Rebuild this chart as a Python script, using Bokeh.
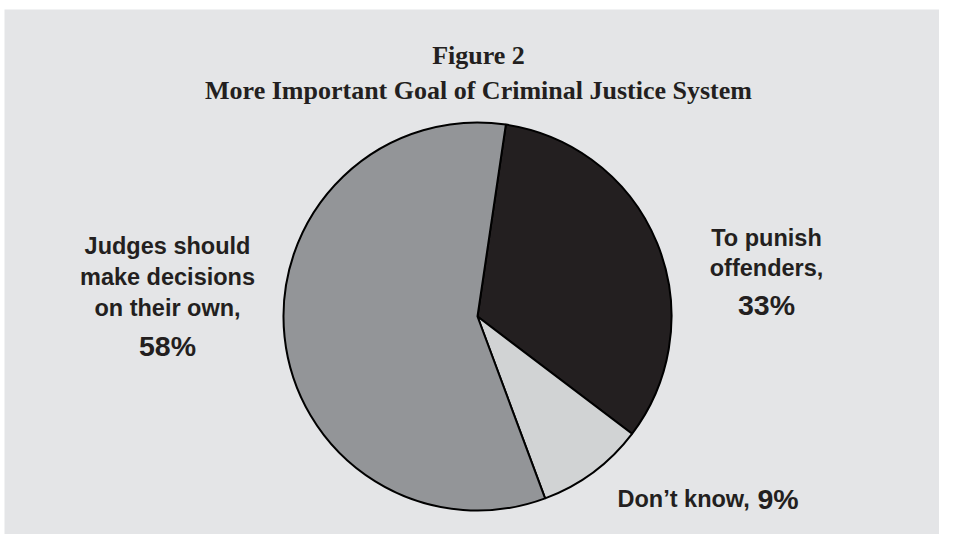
import math
from bokeh.plotting import figure
from bokeh.models import Range1d, ColumnDataSource
from bokeh.core.properties import value
from bokeh.embed import file_html
from bokeh.resources import INLINE

# ---- data ----
title_lines = ["Figure 2", "More Important Goal of Criminal Justice System"]
categories = ["To punish offenders", "Don\u2019t know", "Judges should make decisions on their own"]
values = [33, 9, 58]
colors = ["#231f20", "#d1d3d4", "#939598"]
label_judges = ["Judges should", "make decisions", "on their own,"]
label_punish = ["To punish", "offenders,"]
label_dk = "Don\u2019t know,"

W, H = 939, 534
BG = "#e4e5e7"
TXT = "#231f20"

p = figure(width=W, height=H, output_backend="svg", toolbar_location=None,
           x_range=Range1d(4, W), y_range=Range1d(16, 541),
           min_border=0, min_border_left=4, min_border_top=9,
           background_fill_color=BG, border_fill_color="#ffffff", outline_line_color=None)
p.axis.visible = False
p.grid.visible = False

# ---- pie ----
cx, cy, r = 477, 234, 194
start_deg = 81.6  # first wedge begins slightly right of top, going clockwise
total = sum(values)
ends, starts = [], []
cur = math.radians(start_deg)
for v in values:
    a = 2 * math.pi * v / total
    starts.append(cur - a)
    ends.append(cur)
    cur -= a
src = ColumnDataSource(dict(cat=categories, val=values, color=colors, start=starts, end=ends))
p.wedge(x=cx, y=cy, radius=r, start_angle="start", end_angle="end", source=src,
        fill_color="color", line_color="#000000", line_width=2)

# ---- title ----
serif = value("Liberation Serif")
p.text(x=[478], y=[495], text=[title_lines[0]], text_font=serif,
       text_font_style="bold", text_font_size="26px", text_color=TXT,
       text_align="center", text_baseline="alphabetic")
p.text(x=[478], y=[460], text=[title_lines[1]], text_font=serif,
       text_font_style="bold", text_font_size="26px", text_color=TXT,
       text_align="center", text_baseline="alphabetic")

def pct(v):
    return f"{v}%"

font = value("Liberation Sans")
LS, PS = "23.5px", "28.5px"
# Judges label
p.text(x=[167] * 3, y=[305, 274, 243], text=label_judges, text_font=font, text_font_style="bold",
       text_font_size=LS, text_color=TXT, text_align="center", text_baseline="alphabetic")
p.text(x=[167], y=[205], text=[pct(values[2])], text_font=font, text_font_style="bold",
       text_font_size=PS, text_color=TXT, text_align="center", text_baseline="alphabetic")
# Punish label
p.text(x=[766] * 2, y=[313, 283], text=label_punish, text_font=font, text_font_style="bold",
       text_font_size=LS, text_color=TXT, text_align="center", text_baseline="alphabetic")
p.text(x=[766], y=[246], text=[pct(values[0])], text_font=font, text_font_style="bold",
       text_font_size=PS, text_color=TXT, text_align="center", text_baseline="alphabetic")
# Don't know label
p.text(x=[617], y=[52], text=[label_dk], text_font=font, text_font_style="bold",
       text_font_size=LS, text_color=TXT, text_align="left", text_baseline="alphabetic")
p.text(x=[757], y=[52], text=[pct(values[1])], text_font=font, text_font_style="bold",
       text_font_size=PS, text_color=TXT, text_align="left", text_baseline="alphabetic")

open("out.html", "w").write(file_html(p, INLINE))
